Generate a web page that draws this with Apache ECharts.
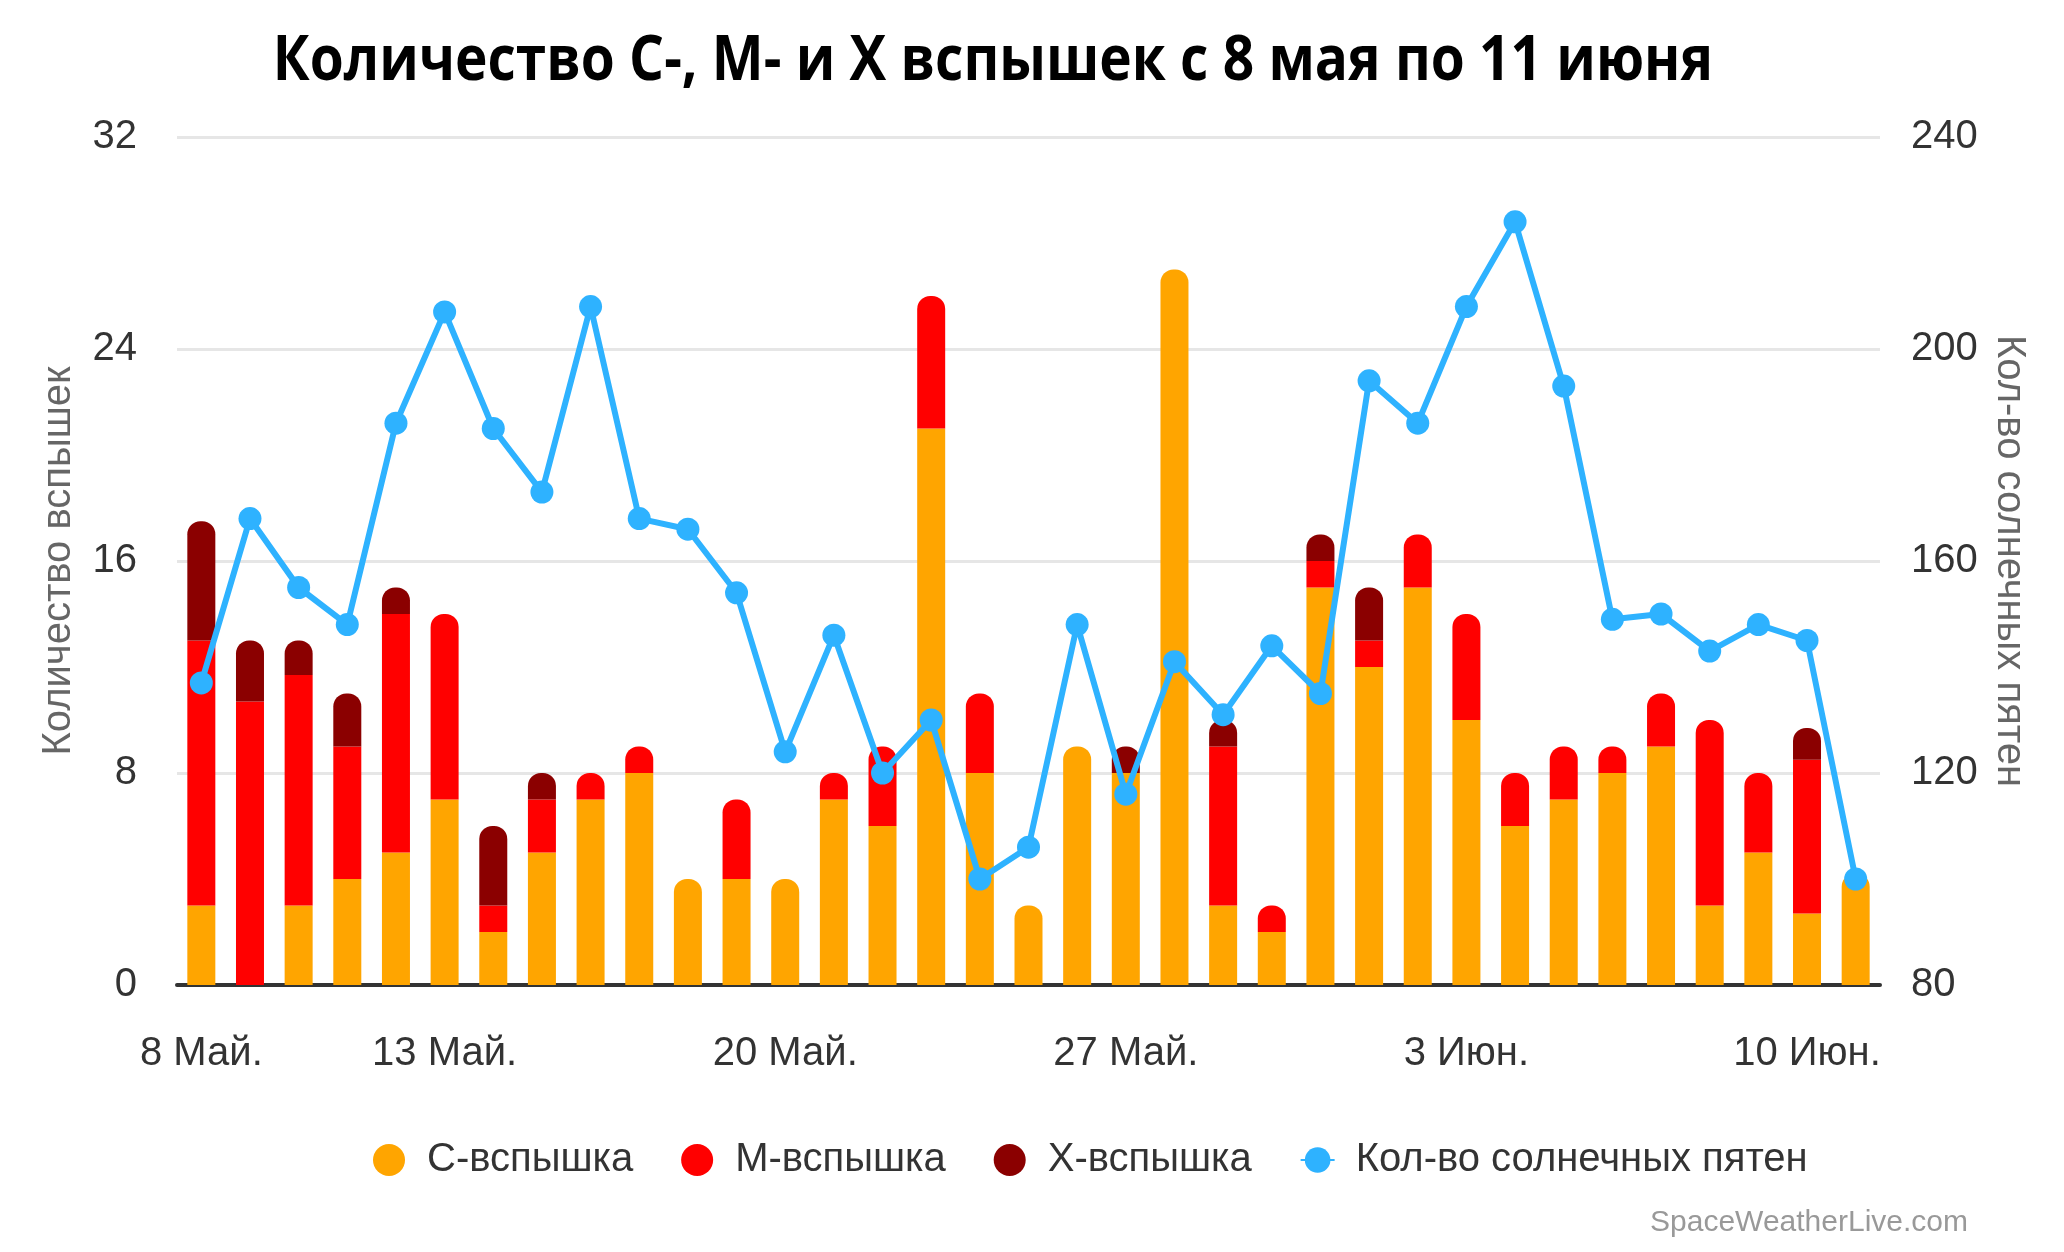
<!DOCTYPE html>
<html><head><meta charset="utf-8">
<script src="https://cdn.jsdelivr.net/npm/echarts@6/dist/echarts.min.js"></script>
<style>html,body{margin:0;padding:0;background:#fff}#c{width:2064px;height:1252px}</style>
</head><body><div id="c"></div>
<script>
const categories = ['8 Май.','9 Май.','10 Май.','11 Май.','12 Май.','13 Май.','14 Май.','15 Май.','16 Май.','17 Май.','18 Май.','19 Май.','20 Май.','21 Май.','22 Май.','23 Май.','24 Май.','25 Май.','26 Май.','27 Май.','28 Май.','29 Май.','30 Май.','31 Май.','1 Июн.','2 Июн.','3 Июн.','4 Июн.','5 Июн.','6 Июн.','7 Июн.','8 Июн.','9 Июн.','10 Июн.','11 Июн.'];
const labelledTicks = ['8 Май.','13 Май.','20 Май.','27 Май.','3 Июн.','10 Июн.'];
const cFlares = [3,0,3,4,5,7,2,5,7,8,4,4,4,7,6,21,8,3,9,8,27,3,2,15,12,15,10,6,7,8,9,3,5,2.7,4.2];
const mFlares = [10,10.7,8.7,5,9,7,1,2,1,1,0,3,0,1,3,5,3,0,0,0,0,6,1,1,1,2,4,2,2,1,2,7,3,5.8,0];
const xFlares = [4.5,2.3,1.3,2,1,0,3,1,0,0,0,0,0,0,0,0,0,0,0,1,0,1,0,1,2,0,0,0,0,0,0,0,0,1.2,0];
const sunspots = [137,168,155,148,186,207,185,173,208,168,166,154,124,146,120,130,100,106,148,116,141,131,144,135,194,186,208,224,193,149,150,143,148,145,100];
const leftTicks = [0,8,16,24,32];
const rightTicks = [80,120,160,200,240];
const titleText = 'Количество С-, М- и X вспышек с 8 мая по 11 июня';

const R = 13;
function topIndex(i){ if (xFlares[i]>0) return 2; if (mFlares[i]>0) return 1; return 0; }
function mk(arr, level){
  return arr.map((v,i)=>({value:v, itemStyle:{borderRadius: topIndex(i)===level ? [R,R,0,0] : 0}}));
}
const axisFont = 'Liberation Sans, Arial, sans-serif';
const chart = echarts.init(document.getElementById('c'), null, {renderer:'canvas'});
chart.setOption({
  animation:false,
  backgroundColor:'#fff',
  grid:{left:177, right:184, top:137, bottom:267, containLabel:false},
  legend:{top:1140, left:373, padding:0, itemWidth:34, itemHeight:32, itemGap:48,
    textStyle:{fontFamily:axisFont, fontSize:40, color:'#333', padding:[0,0,0,16]},
    data:[{name:'С-вспышка', icon:'circle'},{name:'М-вспышка', icon:'circle'},{name:'X-вспышка', icon:'circle'},{name:'Кол-во солнечных пятен'}]},
  graphic:[
    {type:'text', x:993, y:62, scaleX:0.887, style:{text:titleText, fontFamily:'Open Sans', fontWeight:'bold', fontSize:62, fill:'#000', textAlign:'center', textVerticalAlign:'middle'}},
    {type:'text', right:96, top:1208, style:{text:'SpaceWeatherLive.com', fontFamily:axisFont, fontSize:30, fill:'#999'}}
  ],
  xAxis:{type:'category', data:categories, boundaryGap:true,
    axisLine:{lineStyle:{color:'#333', width:4}},
    axisTick:{alignWithLabel:true, length:32, lineStyle:{color:'#333', width:2},
      interval:(i,v)=>labelledTicks.includes(v)},
    axisLabel:{interval:(i,v)=>labelledTicks.includes(v), margin:49, fontFamily:axisFont, fontSize:40, color:'#333'},
    splitLine:{show:false}},
  yAxis:[
    {type:'value', min:leftTicks[0], max:leftTicks[leftTicks.length-1], interval:8,
      name:'Количество вспышек', nameLocation:'middle', nameGap:98, nameRotate:90,
      nameTextStyle:{fontFamily:axisFont, fontSize:40, color:'#666'},
      axisLabel:{fontFamily:axisFont, fontSize:40, color:'#333', margin:40},
      splitLine:{lineStyle:{color:'#e6e6e6', width:3}}, axisLine:{show:false}, axisTick:{show:false}},
    {type:'value', min:rightTicks[0], max:rightTicks[rightTicks.length-1], interval:40,
      name:'Кол-во солнечных пятен', nameLocation:'middle', nameGap:108, nameRotate:-90,
      nameTextStyle:{fontFamily:axisFont, fontSize:40, color:'#666'},
      axisLabel:{fontFamily:axisFont, fontSize:40, color:'#333', margin:31},
      splitLine:{show:false}, axisLine:{show:false}, axisTick:{show:false}}
  ],
  series:[
    {name:'С-вспышка', type:'bar', stack:'f', data:mk(cFlares,0), barWidth:28, itemStyle:{color:'#FFA500'}},
    {name:'М-вспышка', type:'bar', stack:'f', data:mk(mFlares,1), barWidth:28, itemStyle:{color:'#FF0000'}},
    {name:'X-вспышка', type:'bar', stack:'f', data:mk(xFlares,2), barWidth:28, itemStyle:{color:'#8B0000'}},
    {name:'Кол-во солнечных пятен', type:'line', yAxisIndex:1, data:sunspots, symbol:'circle', symbolSize:23,
      lineStyle:{color:'#2EB2FF', width:6}, itemStyle:{color:'#2EB2FF'}, z:5}
  ]
});
</script></body></html>
